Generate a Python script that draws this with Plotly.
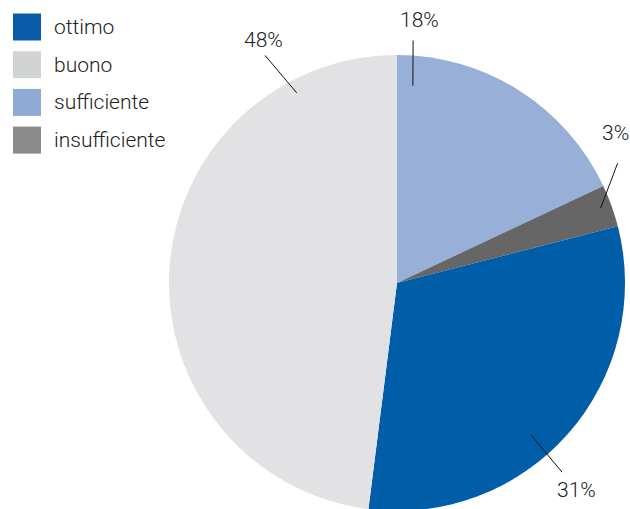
import math
import plotly.graph_objects as go

# ---- data ----
categories = ["ottimo", "buono", "sufficiente", "insufficiente"]
values = [31, 48, 18, 3]
pie_order = ["sufficiente", "insufficiente", "ottimo", "buono"]  # clockwise from 12 o'clock
pie_colors = {"ottimo": "#005ea8", "buono": "#e2e2e4", "sufficiente": "#98b0d8", "insufficiente": "#666667"}
legend_colors = {"ottimo": "#0a5ca8", "buono": "#d2d3d5", "sufficiente": "#8fa9d5", "insufficiente": "#8b8b8b"}

# ---- layout config (screen pixels) ----
W, H = 630, 513   # figure slightly taller than the 509px window; pie runs off the bottom edge
R = 228
cx, cy = 397, 283
FONT = "Roboto, Liberation Sans, sans-serif"
FS = 21
# label placement: (inner angle, inner r, outer angle, outer r, text angle, text r)
# angles in degrees clockwise from 12 o'clock
label_geom = {
    "sufficiente": (4.6, 198, 3.8, 243, 4.8, 264),
    "insufficiente": (69.8, 217, 61.5, 251, 55.5, 265),
    "ottimo": (138.6, 203, 138.9, 251, 139.0, 274),
    "buono": (332.2, 215, 329.9, 263, 331.3, 277),
}

def px2paper(x, y):
    return x / W, (H - y) / H

def polar(a, r):
    t = math.radians(a)
    return cx + r * math.sin(t), cy - r * math.cos(t)

vals = dict(zip(categories, values))
ylo = max(0.0, (H - cy - R) / H)
fig = go.Figure(go.Pie(
    labels=pie_order,
    values=[vals[c] for c in pie_order],
    marker=dict(colors=[pie_colors[c] for c in pie_order], line=dict(width=0)),
    sort=False,
    direction="clockwise",
    rotation=0,
    textinfo="none",
    hoverinfo="label+percent",
    showlegend=False,
    domain=dict(x=[(cx - R) / W, (cx + R) / W], y=[ylo, ylo + 2 * R / H]),
))

shapes = []
annotations = []
for c in categories:
    a0, r0, a1, r1, ta, tr = label_geom[c]
    x0, y0 = px2paper(*polar(a0, r0))
    x1, y1 = px2paper(*polar(a1, r1))
    shapes.append(dict(type="line", xref="paper", yref="paper", x0=x0, y0=y0, x1=x1, y1=y1,
                       line=dict(color="#111111", width=1)))
    tx, ty = px2paper(*polar(ta, tr))
    annotations.append(dict(x=tx, y=ty, xref="paper", yref="paper", text=f"{vals[c]}%",
                            showarrow=False, xanchor="center", yanchor="middle",
                            font=dict(family=FONT, size=FS, color="#222222", weight=300)))

# custom legend
for i, c in enumerate(categories):
    yc = 27 + i * 37.7
    xa, ya = px2paper(13, yc - 13.5)
    xb, yb = px2paper(41, yc + 13.5)
    shapes.append(dict(type="rect", xref="paper", yref="paper", x0=xa, y0=yb, x1=xb, y1=ya,
                       fillcolor=legend_colors[c], line=dict(width=0)))
    lx, ly = px2paper(52, yc)
    annotations.append(dict(x=lx, y=ly, xref="paper", yref="paper", text=c, showarrow=False,
                            xanchor="left", yanchor="middle",
                            font=dict(family=FONT, size=FS, color="#222222", weight=300)))

fig.update_layout(
    width=W, height=H,
    margin=dict(l=0, r=0, t=0, b=0),
    paper_bgcolor="white", plot_bgcolor="white",
    shapes=shapes, annotations=annotations,
    showlegend=False,
)
fig.write_html("out.html", config={"displayModeBar": False},
               post_script="document.body.style.margin='0';document.body.style.overflow='hidden';")
